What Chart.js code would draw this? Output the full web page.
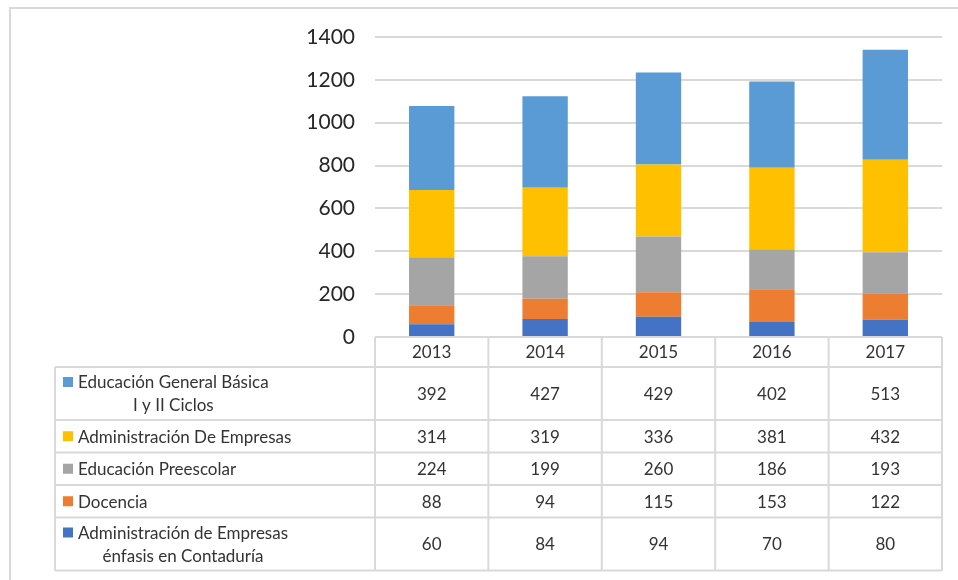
<!DOCTYPE html>
<html>
<head>
<meta charset="utf-8">
<script src="https://cdn.jsdelivr.net/npm/chart.js@4"></script>
<style>
  body { margin: 0; background: #fff; }
  canvas { display: block; }
</style>
</head>
<body>
<canvas id="chart" width="958" height="580"></canvas>
<script>
const years = ['2013', '2014', '2015', '2016', '2017']

// filas de la tabla, de arriba hacia abajo
const seriesNames = [
    'Educación General Básica\nI y II Ciclos',
    'Administración De Empresas',
    'Educación Preescolar',
    'Docencia',
    'Administración de Empresas\nénfasis en Contaduría'
]
const educacionBasica = [392, 427, 429, 402, 513]
const adminEmpresas = [314, 319, 336, 381, 432]
const preescolar = [224, 199, 260, 186, 193]
const docencia = [88, 94, 115, 153, 122]
const contaduria = [60, 84, 94, 70, 80]
const seriesColors = ['#5B9BD5', '#FFC000', '#A5A5A5', '#ED7D31', '#4472C4']

const yTicks = [0, 200, 400, 600, 800, 1000, 1200, 1400]

const rows = [educacionBasica, adminEmpresas, preescolar, docencia, contaduria]

// la pila empieza por abajo: al revés de la tabla
const datasets = rows.map((values, i) => ({
    label: seriesNames[i].replace('\n', ' '),
    data: values,
    backgroundColor: seriesColors[i],
    barPercentage: 0.4,
    categoryPercentage: 1
})).reverse()

const lineColor = '#d9d9d9'
const textColor = '#333333'
const font = 'Lato, "Open Sans", sans-serif'

// Dibuja la tabla de datos debajo del gráfico
const dataTable = {
    id: 'dataTable',
    afterDraw(chart) {
        const ctx = chart.ctx
        const area = chart.chartArea
        const x = chart.scales.x
        const colW = area.width / years.length
        const top = area.bottom
        const headerH = 30
        const rowH = seriesNames.map(n => n.includes('\n') ? 53 : 32.5)
        const labelLeft = 55

        ctx.save()

        // marco exterior
        ctx.strokeStyle = lineColor
        ctx.lineWidth = 2
        ctx.beginPath()
        ctx.moveTo(10, 580)
        ctx.lineTo(10, 8)
        ctx.lineTo(958, 8)
        ctx.stroke()

        // líneas de la tabla
        const bottom = top + headerH + rowH.reduce((a, b) => a + b, 0)
        ctx.beginPath()
        ctx.moveTo(area.left, top)
        ctx.lineTo(area.right, top)
        let y = top + headerH
        ctx.moveTo(labelLeft, y)
        ctx.lineTo(area.right, y)
        rowH.forEach(h => {
            y += h
            ctx.moveTo(labelLeft, y)
            ctx.lineTo(area.right, y)
        })
        ctx.moveTo(labelLeft, top + headerH)
        ctx.lineTo(labelLeft, bottom)
        for (let i = 0; i <= years.length; i++) {
            const cx = area.left + i * colW
            ctx.moveTo(cx, top)
            ctx.lineTo(cx, bottom)
        }
        ctx.stroke()

        ctx.fillStyle = textColor
        ctx.font = '17px ' + font
        ctx.textBaseline = 'middle'
        ctx.textAlign = 'center'

        years.forEach((yr, i) => {
            ctx.fillText(yr, x.getPixelForValue(i), top + headerH / 2 + 1)
        })

        y = top + headerH
        seriesNames.forEach((name, r) => {
            const h = rowH[r]
            const mid = y + h / 2
            ctx.textAlign = 'center'
            ctx.fillStyle = textColor
            rows[r].forEach((v, i) => {
                ctx.fillText(String(v), x.getPixelForValue(i), mid + 1)
            })

            const lines = name.split('\n')
            const lineH = 23
            const firstY = mid - (lines.length - 1) * lineH / 2
            ctx.fillStyle = seriesColors[r]
            ctx.fillRect(63, firstY - 5, 10, 10)
            ctx.fillStyle = textColor
            ctx.textAlign = 'left'
            const w1 = ctx.measureText(lines[0]).width
            ctx.fillText(lines[0], 78, firstY + 1)
            ctx.textAlign = 'center'
            for (let k = 1; k < lines.length; k++) {
                ctx.fillText(lines[k], 78 + w1 / 2, firstY + k * lineH + 1)
            }
            y += h
        })

        ctx.restore()
    }
}

new Chart(document.getElementById('chart'), {
    type: 'bar',
    data: {
        labels: years,
        datasets: datasets
    },
    options: {
        responsive: false,
        animation: false,
        layout: {
            padding: { top: 37, right: 16, bottom: 243, left: 0 }
        },
        plugins: {
            legend: { display: false },
            tooltip: { enabled: false }
        },
        scales: {
            x: {
                stacked: true,
                display: false
            },
            y: {
                stacked: true,
                min: 0,
                max: 1400,
                afterBuildTicks: (scale) => {
                    scale.ticks = yTicks.map(v => ({ value: v }))
                },
                afterFit: (scale) => {
                    scale.width = 375
                },
                border: { display: false },
                grid: {
                    color: lineColor,
                    lineWidth: 2,
                    drawTicks: false
                },
                ticks: {
                    padding: 20,
                    color: '#262626',
                    font: { family: font, size: 21 },
                    callback: (value) => String(value)
                }
            }
        }
    },
    plugins: [dataTable]
})
</script>
</body>
</html>
